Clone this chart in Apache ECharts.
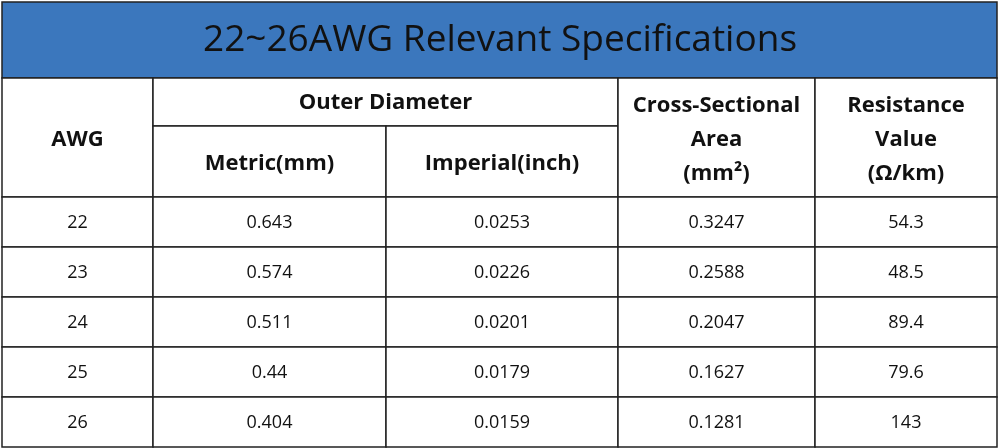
<!DOCTYPE html>
<html><head><meta charset="utf-8">
<script src="https://cdn.jsdelivr.net/npm/echarts@6/dist/echarts.min.js"></script>
<style>html,body{margin:0;padding:0;background:#fff}#c{width:1000px;height:448px}</style>
</head><body><div id="c"></div>
<script>
const title = '22~26AWG Relevant Specifications';
const awg = ['22','23','24','25','26'];
const metric = ['0.643','0.574','0.511','0.44','0.404'];
const imperial = ['0.0253','0.0226','0.0201','0.0179','0.0159'];
const area = ['0.3247','0.2588','0.2047','0.1627','0.1281'];
const resistance = ['54.3','48.5','89.4','79.6','143'];
const columns = [awg, metric, imperial, area, resistance];

const colX = [2,153,386,618,815,997];
const titleTop = 2, headTop = 78, headMid = 126, bodyTop = 197, rowH = 50;
const els = [];
const line = '#222';
const rect = (x,y,w,h,fill)=>els.push({type:'rect',shape:{x,y,width:w,height:h},style:{fill,stroke:line,lineWidth:1.5}});
const text = (x,y,t,size,weight)=>els.push({type:'text',x,y,style:{text:t,fill:'#111',font:`${weight||'normal'} ${size}px "Open Sans","Noto Sans",sans-serif`,align:'center',verticalAlign:'middle',lineHeight:size*1.55}});
// title
rect(colX[0],titleTop,colX[5]-colX[0],headTop-titleTop,'#3b77bd');
text(500,40,title,37,'normal');
// headers
rect(colX[0],headTop,colX[1]-colX[0],bodyTop-headTop,'#fff');
text((colX[0]+colX[1])/2,140,'AWG',22,'bold');
rect(colX[1],headTop,colX[3]-colX[1],headMid-headTop,'#fff');
text((colX[1]+colX[3])/2,103,'Outer Diameter',22,'bold');
rect(colX[1],headMid,colX[2]-colX[1],bodyTop-headMid,'#fff');
text((colX[1]+colX[2])/2,164,'Metric(mm)',22,'bold');
rect(colX[2],headMid,colX[3]-colX[2],bodyTop-headMid,'#fff');
text((colX[2]+colX[3])/2,164,'Imperial(inch)',22,'bold');
rect(colX[3],headTop,colX[4]-colX[3],bodyTop-headTop,'#fff');
text((colX[3]+colX[4])/2,140,'Cross-Sectional\nArea\n(mm²)',22,'bold');
rect(colX[4],headTop,colX[5]-colX[4],bodyTop-headTop,'#fff');
text((colX[4]+colX[5])/2,140,'Resistance\nValue\n(Ω/km)',22,'bold');
// body
columns.forEach((col,c)=>col.forEach((v,r)=>{
  const y = bodyTop + r*rowH;
  rect(colX[c],y,colX[c+1]-colX[c],rowH,'#fff');
  text((colX[c]+colX[c+1])/2,y+rowH/2+1,v,18,'normal');
}));
const chart = echarts.init(document.getElementById('c'));
chart.setOption({animation:false,graphic:{elements:els}});
</script></body></html>
